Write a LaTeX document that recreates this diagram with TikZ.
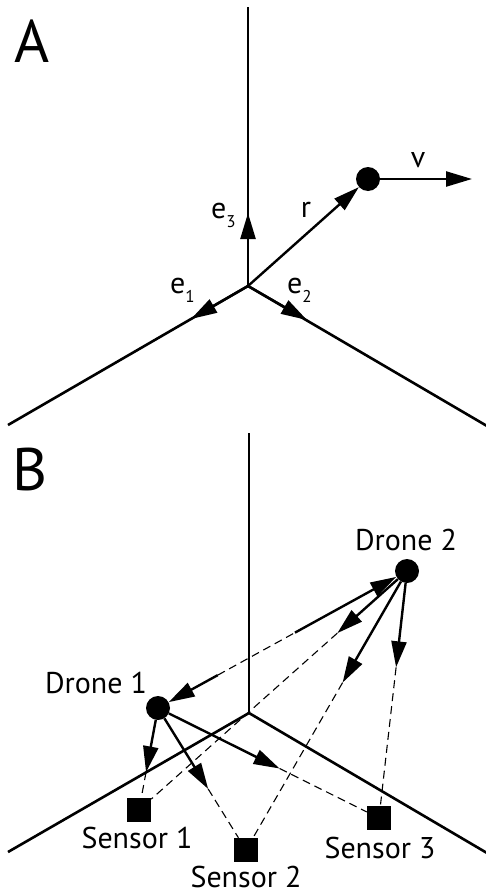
\documentclass[tikz,border=0pt]{standalone}
\usepackage{fontspec}
\setmainfont{PT Sans}
\usetikzlibrary{arrows.meta,calc}
\tikzset{
  >={Triangle[length=26pt,width=15pt]},
  axis/.style={line width=2.6pt},
  upaxis/.style={line width=1.9pt},
  vec/.style={->,line width=2.4pt},
  guide/.style={line width=1.1pt,dash pattern=on 8pt off 5pt},
  dot/.style={circle,fill=black,inner sep=0pt,minimum size=24pt},
  sensor/.style={rectangle,fill=black,inner sep=0pt,minimum size=24pt},
  tag/.style={font=\fontsize{30}{32}\selectfont,inner sep=0pt},
  sym/.style={font=\fontsize{30}{32}\selectfont,inner sep=0pt},
  panel/.style={font=\fontsize{60}{60}\selectfont,inner sep=0pt},
}
\newcommand{\idx}[1]{\raisebox{-9pt}{\fontsize{17}{17}\selectfont #1}}

\begin{document}
\begin{tikzpicture}[x=1pt,y=-1pt]
  \useasboundingbox (0,0) rectangle (485,894);
  % panel A: frame and position vector
  \node[panel,anchor=base west] (lblA) at (14,62) {A};
  \coordinate (oA) at (248,286);
  \coordinate (zA) at (248,7);
  \coordinate (xA) at (8,425);
  \coordinate (yA) at (487,426);
  \draw[upaxis] (oA) -- (zA);
  \draw[axis] (xA) -- (oA) -- (yA);
  \coordinate (e1) at (191,319);
  \coordinate (e2) at (307,320);
  \coordinate (e3) at (248,213);
  \draw[vec] (oA) -- (e1);
  \draw[vec] (oA) -- (e2);
  \draw[vec] (oA) -- (e3);
  \node[sym,anchor=base west] (le1) at (170,293) {e\idx{1}};
  \node[sym,anchor=base west] (le2) at (287,293) {e\idx{2}};
  \node[sym,anchor=base west] (le3) at (211,218) {e\idx{3}};
  \node[dot] (pt) at (368,179) {};
  \coordinate (vtip) at (472,179);
  \draw[vec] (oA) -- (pt);
  \draw[vec] (pt) -- (vtip);
  \node[sym,anchor=base] (lr) at (306,217) {r};
  \node[sym,anchor=base] (lv) at (418,167) {v};

  % panel B: drones and sensors
  \node[panel,anchor=base west] (lblB) at (12,490) {B};
  \coordinate (oB) at (249,713);
  \coordinate (zB) at (249,433);
  \coordinate (xB) at (8,852);
  \coordinate (yB) at (487,853);
  \draw[upaxis] (oB) -- (zB);
  \draw[axis] (xB) -- (oB) -- (yB);
  \node[dot] (d1) at (158,708) {};
  \node[dot] (d2) at (407,571) {};
  \node[tag,anchor=base] (ld1) at (96,693) {Drone 1};
  \node[tag,anchor=base] (ld2) at (406,550) {Drone 2};
  \node[sensor] (s1) at (139,810) {};
  \node[sensor] (s2) at (246,850) {};
  \node[sensor] (s3) at (379,818) {};
  \node[tag,anchor=base] (ls1) at (137,848) {Sensor 1};
  \node[tag,anchor=base] (ls2) at (246,887) {Sensor 2};
  \node[tag,anchor=base] (ls3) at (380,858) {Sensor 3};
  % drone to drone
  \coordinate (m1) at ($(d1)!0.24!(d2)$);
  \coordinate (m2) at ($(d1)!0.55!(d2)$);
  \draw[guide] (m1) -- (m2);
  \draw[vec] (m1) -- (d1);
  \draw[vec] (m2) -- (d2);
  % drone to sensor
  \foreach \s/\a/\b in {1/0.63/0.26, 2/0.57/0.40, 3/0.55/0.39} {
    \coordinate (p\s) at ($(d1)!\a!(s\s)$);
    \coordinate (q\s) at ($(d2)!\b!(s\s)$);
    \draw[guide] (p\s) -- (s\s);
    \draw[guide] (q\s) -- (s\s);
    \draw[vec] (d1) -- (p\s);
    \draw[vec] (d2) -- (q\s);
  }
\end{tikzpicture}
\end{document}
